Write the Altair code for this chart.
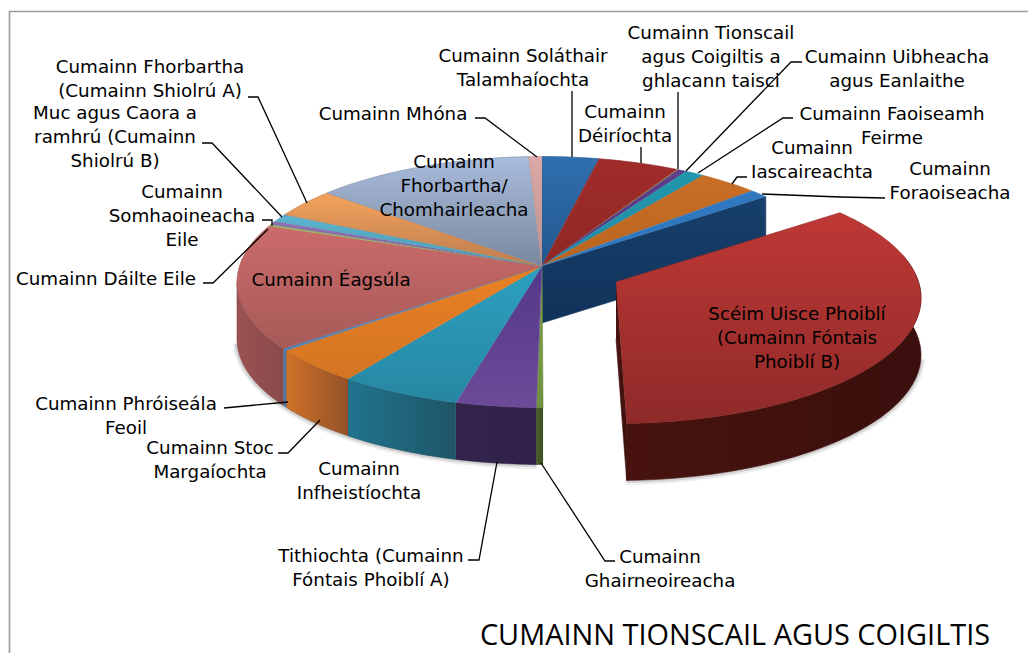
import math
import altair as alt
import pandas as pd

# slice sizes, degrees of the pie, clockwise from the top
names = ["Soláthair", "Déiríochta", "Tionscail", "Uibheacha", "Faoiseamh", "Iascaireachta", "Foraoiseacha",
         "Scéim", "Ghairm", "Tithíocht", "Infheistíocht", "Stoc", "Próiseáil", "Éagsúla", "Dáilte",
         "Somhaoin", "Muc", "FhorbarthaA", "Comhairle", "Móin"]
values = [10.8, 15.5, 0.3, 1.6, 3.7, 11.6, 3.7, 132.6, 1.3, 15.3, 23.1, 17.5, 1.0, 58.5, 0.8, 1.7, 3.5, 12.7, 42.3, 2.5]
top_a = ["#2f6fae", "#a02c2a", "#8a7a3a", "#5f3f8c", "#2296ae", "#c96e26", "#2f78bf", "#bf3835", "#7ea346", "#54388a",
         "#2ba0bf", "#ea8024", "#4d7fb5", "#cc6b6b", "#9bbb59", "#8f72b4", "#5cb3ce", "#f4a35d", "#a9bcdc", "#dcaaa8"]
top_b = ["#23588f", "#8f2725", "#8a7a3a", "#553680", "#208ca3", "#b9651f", "#2f78bf", "#8e2a29", "#6f9140", "#6c4a98",
         "#2787a3", "#d47522", "#4d7fb5", "#a55a58", "#8fa956", "#7f66a0", "#4f9bb3", "#bd7d4e", "#79889f", "#b98f8d"]
wall_a = ["#14375e"] * 7 + ["#3a0f0d", "#4a5f2c", "#33244c", "#20748e", "#cf7226", "#4a76a6", "#9a5252", "#777", "#777", "#777", "#777", "#777", "#777"]
wall_b = ["#14375e"] * 7 + ["#48130f", "#3d4f24", "#2f2147", "#1f5566", "#935129", "#4a76a6", "#8a4a4a", "#777", "#777", "#777", "#777", "#777", "#777"]

labels = [
    ("Cumainn Fhorbartha\n(Cumainn Shiolrú A)", 150, 73), ("Muc agus Caora a\nramhrú (Cumainn\nShiolrú B)", 115, 119),
    ("Cumainn\nSomhaoineacha\nEile", 182, 198), ("Cumainn Dáilte Eile", 106, 285), ("Cumainn Éagsúla", 331, 286),
    ("Cumainn Mhóna", 393, 120), ("Cumainn\nFhorbartha/\nChomhairleacha", 454, 168),
    ("Cumainn Soláthair\nTalamhaíochta", 523, 62), ("Cumainn\nDéiríochta", 625, 118),
    ("Cumainn Tionscail\nagus Coigiltis a\nghlacann taisci", 711, 39), ("Cumainn Uibheacha\nagus Eanlaithe", 897, 63),
    ("Cumainn Faoiseamh\nFeirme", 892, 120), ("Cumainn\nIascaireachta", 812, 154), ("Cumainn\nForaoiseacha", 950, 175),
    ("Scéim Uisce Phoiblí\n(Cumainn Fóntais\nPhoiblí B)", 797, 320), ("Cumainn Phróiseála\nFeoil", 126, 410),
    ("Cumainn Stoc\nMargaíochta", 210, 454), ("Cumainn\nInfheistíochta", 359, 475),
    ("Tithiochta (Cumainn\nFóntais Phoiblí A)", 371, 562), ("Cumainn\nGhairneoireacha", 660, 563),
]
leaders = [
    [(248, 97), (258, 97), (307, 203)], [(202, 143), (212, 143), (282, 217)], [(262, 220), (272, 220), (272, 226)],
    [(203, 283), (213, 283), (268, 229)], [(475, 118), (485, 118), (537, 157)], [(572, 91), (572, 157)],
    [(641, 147), (641, 163)], [(678, 92), (678, 169)], [(802, 62), (791, 62), (686, 171)],
    [(793, 118), (783, 118), (698, 173)], [(747, 177), (737, 177), (732, 184)], [(885, 198), (840, 197), (762, 194)],
    [(224, 408), (288, 402)], [(278, 453), (288, 453), (320, 420)], [(468, 560), (479, 560), (497, 462)],
    [(615, 561), (605, 561), (541, 463)],
]

W, H = 1020, 645
xs = alt.Scale(domain=[8, 8 + W], range=[0, W], nice=False, zero=False)
ys = alt.Scale(domain=[8, 8 + H], range=[0, H], nice=False, zero=False)
X = alt.X("x:Q", scale=xs, axis=None)
Y = alt.Y("y:Q", scale=ys, axis=None)

CX, CY, RX, RY = 542, 282, 305, 125.5
AX, AY = 542, 266          # perspective apex
DX, DY = 74, 16            # explosion
DEPTH = 57
TRIM = 1.8                 # the exploded slice shrinks a little in perspective


def rim(a, dx=0, dy=0):
    t = math.radians(a)
    return (CX + RX * math.sin(t) + dx, CY - RY * math.cos(t) + dy)


def arc(a0, a1, dx=0, dy=0):
    n = max(2, int(abs(a1 - a0)) + 2)
    return [rim(a0 + (a1 - a0) * i / (n - 1), dx, dy) for i in range(n)]


def grad(c0, c1, horizontal=False):
    return alt.Gradient(gradient="linear", stops=[alt.GradientStop(color=c0, offset=0), alt.GradientStop(color=c1, offset=1)],
                        x1=0, x2=1 if horizontal else 0, y1=0, y2=0 if horizontal else 1)


def poly(points, c0, c1, horizontal=False, stroke=None):
    df = pd.DataFrame(points, columns=["x", "y"])
    df["o"] = range(len(df))
    return alt.Chart(df).mark_line(fill=grad(c0, c1, horizontal), stroke=stroke or c1, strokeWidth=0.6, interpolate="linear").encode(x=X, y=Y, order="o:Q")


def path(points, color="#000000", width=1.3, opacity=1.0):
    df = pd.DataFrame(points, columns=["x", "y"])
    df["o"] = range(len(df))
    return alt.Chart(df).mark_line(color=color, strokeWidth=width, opacity=opacity).encode(x=X, y=Y, order="o:Q")


edges = [0]
for v in values:
    edges.append(edges[-1] + v)
layers = []

# frame
layers.append(path([(9.5, H + 8), (9.5, 11.5), (W + 8, 11.5)], "#9a9a9a", 1.6))

# soft shadows under the walls
front = [(x, y + DEPTH) for x, y in arc(181, 268)]
ex_front = [(x, y + DEPTH) for x, y in arc(92, edges[8] - TRIM, DX, DY)]
for w, op in ((9, 0.10), (5, 0.18)):
    layers.append(path(front, "#555555", w, op))
    layers.append(path(ex_front, "#555555", w, op))

# cut face of the main pie
r0 = rim(edges[7])
layers.append(poly([(AX, AY), r0, (r0[0], r0[1] + DEPTH), (AX, AY + DEPTH)], "#16406c", "#11325a", False))

# walls of the main pie
for i, n in enumerate(names):
    if i == 7:
        continue
    a0, a1 = max(edges[i], 90), min(edges[i + 1], 270)
    if a1 <= a0:
        continue
    top = arc(a0, a1)
    pts = top + [(x, y + DEPTH) for x, y in reversed(top)]
    layers.append(poly(pts, wall_a[i], wall_b[i], True))

# tops of the main pie
for i, n in enumerate(names):
    if i == 7:
        continue
    pts = [(AX, AY)] + arc(edges[i], edges[i + 1])
    layers.append(poly(pts, top_a[i], top_b[i]))

# exploded slice
a0, a1 = edges[7], edges[8] - TRIM
ea = (AX + DX, AY + DY)
re1 = rim(a1, DX, DY)
layers.append(poly([ea, re1, (re1[0], re1[1] + DEPTH), (ea[0], ea[1] + DEPTH)], "#4e1512", "#3d0f0d"))
tw = arc(max(a0, 70), a1, DX, DY)
layers.append(poly(tw + [(x, y + DEPTH) for x, y in reversed(tw)], wall_b[7], wall_a[7], True, "#3f100e"))
layers.append(poly([ea] + arc(a0, a1, DX, DY), top_a[7], top_b[7]))

# leader lines
for pts in leaders:
    layers.append(path(pts))

# labels
label_df = pd.DataFrame(labels, columns=["t", "x", "y"])
layers.append(alt.Chart(label_df).mark_text(font="DejaVu Sans", fontSize=18.3, lineHeight=24, lineBreak="\n", align="center",
                                            baseline="alphabetic", color="#000000").encode(x=X, y=Y, text="t:N"))
title_df = pd.DataFrame([{"t": "CUMAINN TIONSCAIL AGUS COIGILTIS", "x": 735, "y": 645}])
layers.append(alt.Chart(title_df).mark_text(font="Open Sans", fontSize=28.9, align="center", baseline="alphabetic",
                                            color="#000000").encode(x=X, y=Y, text="t:N"))

chart = alt.layer(*layers).properties(width=W, height=H, padding=0, autosize=alt.AutoSizeParams(type="none"),
                                      background="white").configure_view(stroke=None)
chart.save("out.html", embed_options={"renderer": "svg", "actions": False})
